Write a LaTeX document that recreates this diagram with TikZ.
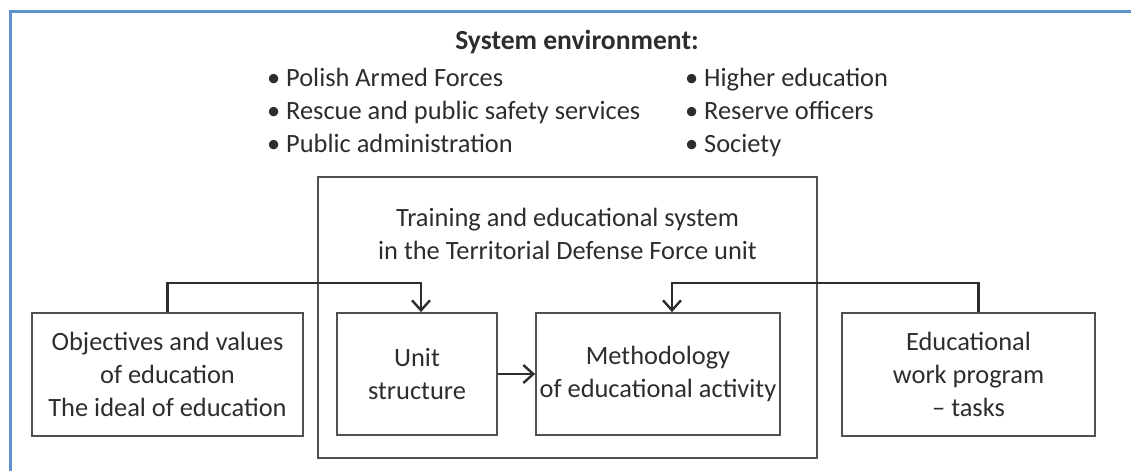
\documentclass[tikz,border=0pt]{standalone}
\usepackage{fontspec}
\setmainfont{Carlito}
\usepackage{tikz}
\usetikzlibrary{arrows.meta}
\definecolor{framebl}{RGB}{95,145,205}
\definecolor{txt}{RGB}{45,45,45}
\definecolor{edge}{RGB}{80,80,80}

\begin{document}
\begin{tikzpicture}[x=0.5pt,y=-0.5pt,
	every node/.style={text=txt,font=\fontsize{13.2}{16.5}\selectfont},
	box/.style={draw=edge,line width=0.9pt,align=center,inner sep=0pt},
	conn/.style={draw=txt,line width=1.3pt},
	>={Straight Barb[length=5pt,width=9pt,line width=1.2pt]}]
	\useasboundingbox (0,0) rectangle (1131,471);
	\draw [framebl,line width=1.5pt] (10,471) -- (10,11) -- (1131,11);
	%
	\node (env) [font=\fontsize{13.8}{16.5}\selectfont\bfseries] at (577,42) {System environment:};
	\node (envl) [anchor=west,align=left] at (260,113) {\strut• Polish Armed Forces\\• Rescue and public safety services\\• Public administration\strut};
	\node (envr) [anchor=west,align=left] at (678,113) {\strut• Higher education\\• Reserve officers\\• Society\strut};
	%
	\node (sys) [box,minimum width=249.5pt,minimum height=140.5pt] at (567.5,317.5) {};
	\node (systxt) [align=center] at (567.5,234) {Training and educational system\\in the Territorial Defense Force unit};
	%
	\node (obj) [box,minimum width=135.5pt,minimum height=61.5pt] at (167.5,374.5) {Objectives and values\\of education\\The ideal of education};
	\node (unit) [box,minimum width=80pt,minimum height=61pt] at (417,374) {Unit\\structure};
	\node (meth) [box,minimum width=122pt,minimum height=61pt] at (658,374) {Methodology\\of educational activity};
	\node (prog) [box,minimum width=126.5pt,minimum height=61.5pt] at (968.5,374.5) {Educational\\work program\\– tasks};
	%
	\draw [conn,->] (obj.north) -- ++(0,-29) -| ([xshift=2pt]unit.north);
	\draw [conn,->] ([xshift=5pt]prog.north) -- ++(0,-29) -| ([xshift=7pt]meth.north);
	\draw [conn,->] (unit) -- (meth);
\end{tikzpicture}
\end{document}
